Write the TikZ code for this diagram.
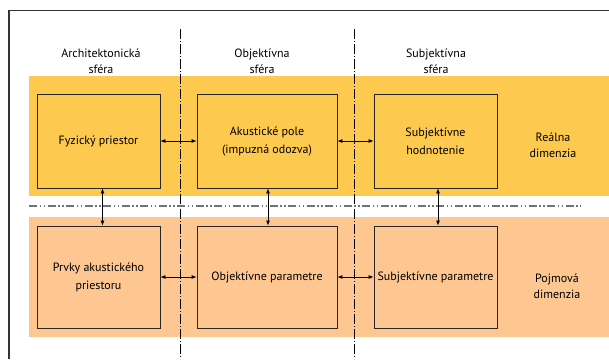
\documentclass[tikz,border=0pt]{standalone}
\usepackage{fontspec}
\setmainfont{PT Sans}
\usetikzlibrary{arrows.meta}
\definecolor{realna}{HTML}{FEC94F}
\definecolor{pojmova}{HTML}{FEC691}
\definecolor{ramik}{HTML}{333333}
\begin{document}
\begin{tikzpicture}[x=1pt,y=-1pt,line width = 0.8pt,>={Latex[length=5pt,width=4pt]}]
\tikzstyle{box}=[rectangle,draw=black!85,minimum height=94pt,align=center,font=\fontsize{12}{18}\selectfont];
\tikzstyle{label}=[align=center,font=\fontsize{12}{16}\selectfont];
\tikzstyle{sfera}=[black,line width=0.5pt,dash pattern=on 10pt off 2pt on 1pt off 2pt];
\tikzstyle{dimenzia}=[black!55,line width=1.2pt,dash pattern=on 8pt off 2.5pt on 1.5pt off 2.5pt on 1.5pt off 2.5pt];
\useasboundingbox (0,0) rectangle (609,359);

% pasy
\fill[realna] (29,76) rectangle (609,196);
\fill[pojmova] (29,217) rectangle (609,337);
\draw[ramik,line width=1.1pt] (9,359) -- (9,10.5) -- (609,10.5);

% hranice sfer
\draw[sfera] (180,29) -- (180,359);
\draw[sfera] (354,29) -- (354,359);
\draw[dimenzia] (29,206) -- (581,206);

\draw(101,61) node[label] (AS) {Architektonická\\sféra};
\draw(262,61) node[label] (OS) {Objektívna\\sféra};
\draw(436,61) node[label] (SS) {Subjektívna\\sféra};
\draw(553,145) node[label] (RD) {Reálna\\dimenzia};
\draw(557,286) node[label] (PD) {Pojmová\\dimenzia};

\draw(98.5,141) node[box,fill=realna,minimum width=123pt] (FP) {Fyzický priestor};
\draw(267,141) node[box,fill=realna,minimum width=140pt] (AP) {Akustické pole\\(impuzná odozva)};
\draw(435.5,141) node[box,fill=realna,minimum width=123pt] (SH) {Subjektívne\\hodnotenie};
\draw(98.5,277) node[box,fill=pojmova,minimum width=123pt,minimum height=102pt] (PA) {Prvky akustického\\priestoru};
\draw(267,277) node[box,fill=pojmova,minimum width=140pt,minimum height=102pt] (OP) {Objektívne parametre};
\draw(435.5,277) node[box,fill=pojmova,minimum width=123pt,minimum height=102pt,inner xsep=1pt] (SP) {Subjektívne parametre};

\draw[<->] (FP) -- (AP);
\draw[<->] (AP) -- (SH);
\draw[<->] (PA) -- (OP);
\draw[<->] (OP) -- (SP);
\draw[<->] ([xshift=4pt]FP.south) -- ([xshift=4pt]PA.north);
\draw[<->] ([xshift=1pt]AP.south) -- ([xshift=1pt]OP.north);
\draw[<->] ([xshift=2.5pt]SH.south) -- ([xshift=2.5pt]SP.north);
\end{tikzpicture}
\end{document}
